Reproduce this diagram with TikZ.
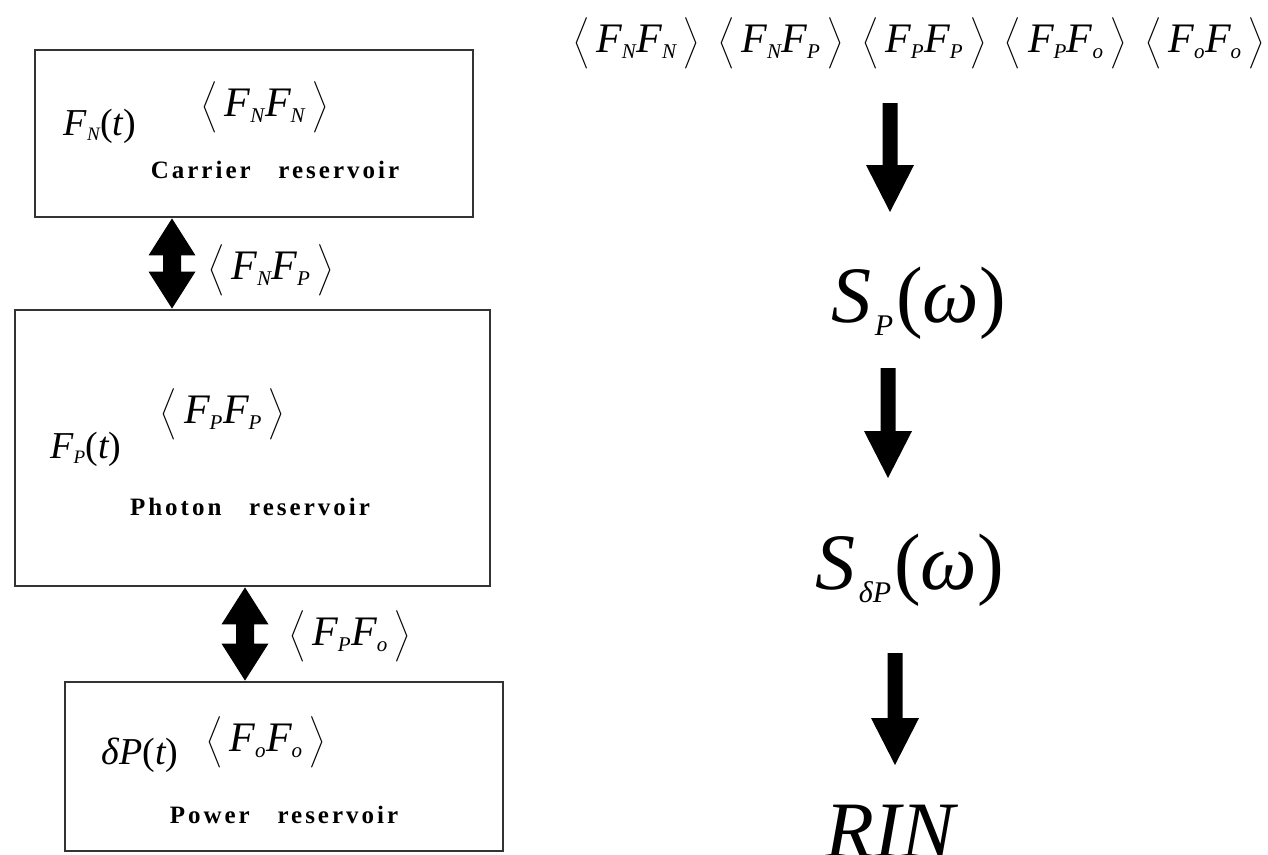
\RequirePackage{fix-cm}
\documentclass[tikz,border=0pt]{standalone}
\usepackage{amsmath}
\usepackage{exscale}
\usepackage{graphicx}
\usepackage{fontspec}
\setmainfont{Liberation Serif}
\newfontfamily\lblfont[LetterSpace=12,WordSpace=3]{Liberation Serif}
\usetikzlibrary{calc}
\definecolor{boxgray}{HTML}{333333}
\newcommand\vi[1]{\text{\normalfont\itshape #1}}
\newcommand\vr[1]{\text{\normalfont #1}}
\newcommand\ssb[1]{_{\scriptscriptstyle\vi{#1}}}
\newcommand\lang{\mathopen{\scalebox{0.86}{$\bigl\langle$}}}
\newcommand\rang{\mathclose{\scalebox{0.86}{$\bigr\rangle$}}}
\newcommand\corr[2]{\lang\,\vi{F}\ssb{#1}\vi{F}\ssb{#2}\,\rang}
% big right-column subscript, lowered
\newcommand\bsub[1]{\hspace{3pt}\raisebox{-13pt}{\fontsize{30}{30}\selectfont\itshape #1}\hspace{3pt}}
% double block arrow between two points (top, bottom)
\newcommand\dblarr[2]{%
  \fill[arrfill] let \p1=(#1), \p2=(#2) in
    (\p1) -- ({\x1+23.5pt},{\y1-37pt}) -- ({\x1+9pt},{\y1-37pt})
    -- ({\x1+9pt},{\y2+37pt}) -- ({\x1+23.5pt},{\y2+37pt}) -- (\x1,\y2)
    -- ({\x1-23.5pt},{\y2+37pt}) -- ({\x1-9pt},{\y2+37pt})
    -- ({\x1-9pt},{\y1-37pt}) -- ({\x1-23.5pt},{\y1-37pt}) -- cycle;}
% down block arrow: #1 from node, #2 to node, #3 x, #4 offset below #1, #5 offset above #2
\newcommand\downarr[5]{%
  \fill[arrfill] let \p1=(#1), \p2=(#2) in
    ({#3pt-7.5pt},{\y1-#4pt}) -- ({#3pt+7.5pt},{\y1-#4pt})
    -- ({#3pt+7.5pt},{\y2+#5pt+47pt}) -- ({#3pt+24pt},{\y2+#5pt+47pt})
    -- ({#3pt},{\y2+#5pt}) -- ({#3pt-24pt},{\y2+#5pt+47pt})
    -- ({#3pt-7.5pt},{\y2+#5pt+47pt}) -- cycle;}
\begin{document}
\begin{tikzpicture}[x=1pt,y=-1pt,
  resbox/.style={draw=boxgray, line width=2.8pt, inner sep=0pt},
  arrfill/.style={fill=black},
  mlbl/.style={inner sep=0pt, font=\fontsize{42}{48}\selectfont},
  slbl/.style={inner sep=0pt, font=\fontsize{38}{44}\selectfont},
  rlbl/.style={inner sep=0pt, font=\lblfont\bfseries\fontsize{25}{30}\selectfont},
  blbl/.style={inner sep=0pt, font=\fontsize{80}{90}\selectfont\itshape}]
\fill[white] (0,0) rectangle (1268,854);
\useasboundingbox (0,0) rectangle (1268,854);

% boxes
\node[resbox, minimum width=438pt, minimum height=167pt] (box1) at (254,133.5) {};
\node[resbox, minimum width=475pt, minimum height=276pt] (box2) at (252.5,448) {};
\node[resbox, minimum width=438pt, minimum height=169pt] (box3) at (284,766.5) {};

% box 1 content
\node[slbl] (fnt) at (100,126) {$\vi{F}\ssb{N}\vr{(}\vi{t}\vr{)}$};
\node[mlbl] (cnn) at (265,107) {$\corr{N}{N}$};
\node[rlbl] (l1) at (275,170) {Carrier reservoir};

% box 2 content
\node[slbl] (fpt) at (86,449) {$\vi{F}\ssb{P}\vr{(}\vi{t}\vr{)}$};
\node[mlbl] (cpp) at (223,414) {$\corr{P}{P}$};
\node[rlbl] (l2) at (250,507) {Photon reservoir};

% box 3 content
\node[slbl] (dpt) at (140,755) {$\vi{δP}\vr{(}\vi{t}\vr{)}$};
\node[mlbl] (coo) at (266,742) {$\corr{o}{o}$};
\node[rlbl] (l3) at (284,815) {Power reservoir};

% double arrows
\coordinate (ax1) at (172,0);
\coordinate (ax2) at (245,0);
\dblarr{box1.south -| ax1}{box2.north -| ax1}
\dblarr{box2.south -| ax2}{box3.north -| ax2}
\node[mlbl] (cnp) at (271,270) {$\corr{N}{P}$};
\node[mlbl] (cpo) at (350,636) {$\corr{P}{o}$};

% right column
\node[mlbl] (top) at (919,43) {$\corr{N}{N}\;\,\corr{N}{P}\;\,\corr{P}{P}\;\,\corr{P}{o}\;\,\corr{o}{o}$};
\node[blbl] (sp) at (919,303) {S\bsub{P}{\upshape(}ω{\upshape)}};
\node[blbl] (sdp) at (910,570) {S\bsub{δP}{\upshape(}ω{\upshape)}};
\node[blbl, anchor=base] (rin) at (890,857) {RIN};

\downarr{top.center}{sp.center}{890}{60}{91}
\downarr{sp.center}{sdp.center}{888}{65}{92}
\downarr{sdp.center}{rin.base}{895}{83}{92}
\end{tikzpicture}
\end{document}
